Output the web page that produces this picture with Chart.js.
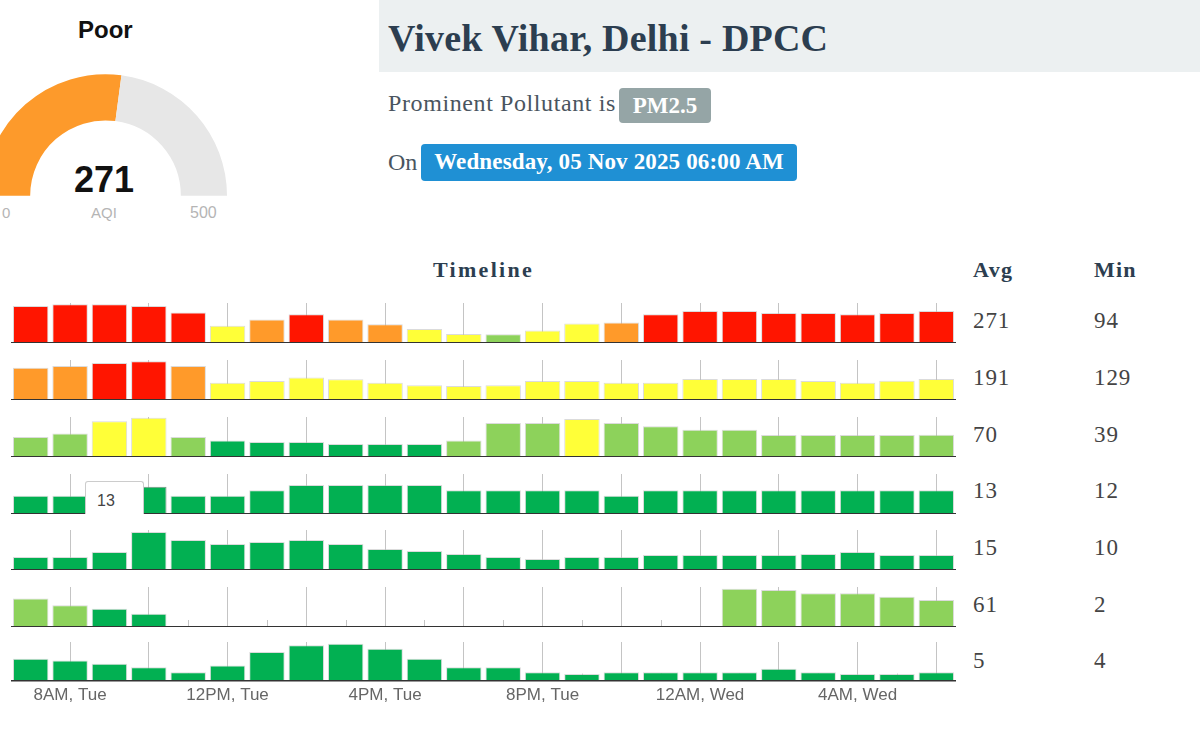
<!DOCTYPE html>
<html>
<head>
<meta charset="utf-8">
<title>Vivek Vihar, Delhi - DPCC</title>
<script src="https://cdn.jsdelivr.net/npm/chart.js@4"></script>
<style>
html, body { margin: 0; padding: 0; background: #fff; overflow: hidden; }
#page { position: relative; width: 1200px; height: 738px; overflow: hidden; }
#page canvas { position: absolute; }
.txt { position: absolute; white-space: nowrap; line-height: 1; }
.serif { font-family: "Liberation Serif", serif; color: #4a5560; }
.sans { font-family: "Liberation Sans", sans-serif; }
#head { position: absolute; left: 379px; top: 0; width: 821px; height: 72px; background: #ecf0f1; }
.badge { position: absolute; border-radius: 4px; color: #fff; font: bold 23px "Liberation Serif", serif; text-align: center; }
#tip { position: absolute; left: 85px; top: 481px; width: 57px; height: 32px; background: #fff; border: 1px solid #ccc; border-bottom: 0; border-radius: 3px 3px 0 0; }
</style>
</head>
<body>
<div id="page">
  <div id="head"></div>
  <div class="txt serif" style="left:388px;top:19px;font-size:38px;font-weight:bold;color:#2c3e50;letter-spacing:.2px">Vivek Vihar, Delhi - DPCC</div>
  <div class="txt serif" style="left:388px;top:91px;font-size:24px;letter-spacing:.6px">Prominent Pollutant is</div>
  <div class="badge" style="left:619px;top:88px;width:92px;height:35px;line-height:35px;background:#95a5a6">PM2.5</div>
  <div class="txt serif" style="left:388px;top:150px;font-size:24px">On</div>
  <div class="badge" style="left:421px;top:144px;width:376px;height:37px;line-height:36px;background:#1f90d4;letter-spacing:.15px">Wednesday, 05 Nov 2025 06:00 AM</div>
  <div class="txt serif" style="left:433px;top:259px;font-size:22px;font-weight:bold;color:#2c3e50;letter-spacing:2.3px">Timeline</div>
  <div class="txt serif" style="left:973px;top:259px;font-size:22px;font-weight:bold;color:#2c3e50;letter-spacing:1.4px">Avg</div>
  <div class="txt serif" style="left:1094px;top:259px;font-size:22px;font-weight:bold;color:#2c3e50;letter-spacing:1.2px">Min</div>
  <div class="txt sans" style="left:78px;top:18px;font-size:24px;font-weight:bold;color:#111">Poor</div>
  <div class="txt sans" style="left:74px;top:162px;font-size:36px;font-weight:bold;color:#111">271</div>
  <div class="txt sans" style="left:2px;top:205px;font-size:15px;color:#b5b5b5">0</div>
  <div class="txt sans" style="left:91px;top:205px;font-size:15px;color:#b5b5b5">AQI</div>
  <div class="txt sans" style="left:190px;top:205px;font-size:16px;color:#b5b5b5">500</div>
  <canvas id="gauge" width="243" height="122" style="left:-16px;top:74px"></canvas>
</div>
<script>
const hours = ["7AM, Tue","8AM, Tue","9AM, Tue","10AM, Tue","11AM, Tue","12PM, Tue","1PM, Tue","2PM, Tue","3PM, Tue","4PM, Tue","5PM, Tue","6PM, Tue",
    "7PM, Tue","8PM, Tue","9PM, Tue","10PM, Tue","11PM, Tue","12AM, Wed","1AM, Wed","2AM, Wed","3AM, Wed","4AM, Wed","5AM, Wed","6AM, Wed"];

const row1 = [315,330,330,315,259,147,200,245,200,159,118,77,74,106,165,174,245,271,271,256,256,245,256,271];
const row2 = [293,309,337,353,309,156,172,204,188,156,134,127,134,172,172,156,156,191,191,191,172,156,175,191];
const row3 = [63,74,113,124,63,52,47,47,41,41,41,52,107,107,120,107,97,86,86,69,69,69,69,70];
const row4 = [10,10,13,15,10,10,13,16,16,16,16,13,13,13,13,10,13,13,13,13,13,13,13,13];
const row5 = [13,13,18,38,30,26,28,30,26,21,19,16,13,11,13,13,15,15,15,15,16,18,15,15];
const row6 = [64,49,41,30,null,null,null,null,null,null,null,null,null,null,null,1,null,2,86,83,76,76,68,61];
const row7 = [13,12,10,8,5,9,17,21,22,19,13,8,8,5,4,5,5,5,5,7,5,4,4,5];

// air quality band of every bar: 0 good .. 4 very poor
const band1 = [4,4,4,4,4,2,3,4,3,3,2,2,1,2,2,3,4,4,4,4,4,4,4,4];
const band2 = [3,3,4,4,3,2,2,2,2,2,2,2,2,2,2,2,2,2,2,2,2,2,2,2];
const band3 = [1,1,2,2,1,0,0,0,0,0,0,1,1,1,2,1,1,1,1,1,1,1,1,1];
const band4 = new Array(24).fill(0);
const band5 = new Array(24).fill(0);
const band6 = [1,1,0,0,0,0,0,0,0,0,0,0,0,0,0,0,0,0,1,1,1,1,1,1];
const band7 = new Array(24).fill(0);

const rowMax = [340, 364, 126, 22, 40, 90, 23];
const avgValues = [271, 191, 70, 13, 15, 61, 5];
const minValues = [94, 129, 39, 12, 10, 2, 4];
const aqiValue = 271;
const aqiMax = 500;

const bandColors = ["#02b052", "#8dd25b", "#ffff38", "#ff9a2a", "#ff1500"];
const baselines = [342, 399, 456, 513, 569, 626, 681];
const textRows = [320, 377, 434, 490, 547, 604, 660];
const rows = [row1, row2, row3, row4, row5, row6, row7];
const bands = [band1, band2, band3, band4, band5, band6, band7];

const page = document.getElementById("page");

new Chart(document.getElementById("gauge"), {
    type: "doughnut",
    data: {
        labels: ["AQI", "rest"],
        datasets: [{ data: [aqiValue, aqiMax - aqiValue], backgroundColor: ["#fd9a2b", "#e7e7e7"], borderWidth: 0 }]
    },
    options: {
        responsive: false,
        animation: false,
        rotation: -90,
        circumference: 180,
        cutout: "62%",
        plugins: { legend: { display: false }, tooltip: { enabled: false } }
    }
});

// the little ticks between the tall grid lines, only visible where there is no bar
const shortTicks = {
    id: "shortTicks",
    beforeDatasetsDraw(chart) {
        const ctx = chart.ctx;
        const bottom = chart.chartArea.bottom;
        ctx.save();
        ctx.strokeStyle = "#c4c4c4";
        ctx.lineWidth = 1;
        hours.forEach(function(h, i) {
            if (i % 2 === 1) return;
            const x = Math.round(chart.scales.x.getPixelForValue(i)) + 0.5;
            ctx.beginPath();
            ctx.moveTo(x, bottom - 7);
            ctx.lineTo(x, bottom);
            ctx.stroke();
        });
        ctx.restore();
    }
};

rows.forEach(function(values, r) {
    const last = r === rows.length - 1;
    const canvas = document.createElement("canvas");
    canvas.width = 945;
    canvas.height = last ? 69 : 40;
    canvas.style.left = "11px";
    canvas.style.top = (baselines[r] - 39) + "px";
    page.appendChild(canvas);

    new Chart(canvas, {
        type: "bar",
        data: {
            labels: hours,
            datasets: [{
                data: values,
                backgroundColor: bands[r].map(function(b) { return bandColors[b]; }),
                // the bar next to the hover box is still outlined in the screenshot
                borderColor: function(c) { return r === 3 && c.dataIndex === 3 ? "#7f8f86" : "rgba(190, 190, 190, 0.55)"; },
                borderWidth: 1,
                categoryPercentage: 1,
                barPercentage: 0.9
            }]
        },
        options: {
            responsive: false,
            animation: false,
            layout: { padding: 0 },
            plugins: { legend: { display: false }, tooltip: { enabled: false } },
            scales: {
                x: {
                    grid: {
                        offset: false,
                        drawTicks: false,
                        color: function(c) { return c.index % 2 === 1 ? "#c4c4c4" : "rgba(0,0,0,0)"; }
                    },
                    border: { color: "#333", width: 1.5, z: 1 },
                    ticks: {
                        display: last,
                        autoSkip: false,
                        maxRotation: 0,
                        padding: 5,
                        color: "#666",
                        font: { family: "Liberation Sans", size: 17 },
                        callback: function(v, i) { return i % 4 === 1 ? hours[i] : ""; }
                    }
                },
                y: { display: false, min: 0, max: rowMax[r] }
            }
        },
        plugins: [shortTicks]
    });

    [[973, avgValues[r]], [1094, minValues[r]]].forEach(function(c) {
        const d = document.createElement("div");
        d.className = "txt serif";
        d.style.cssText = "left:" + c[0] + "px;top:" + (textRows[r] - 11) + "px;font-size:23px;letter-spacing:.9px;color:#444";
        d.textContent = c[1];
        page.appendChild(d);
    });
});

// the hover box that sits over the fourth row in the screenshot
const tip = document.createElement("div");
tip.id = "tip";
const tipText = document.createElement("div");
tipText.className = "txt sans";
tipText.style.cssText = "left:11px;top:11px;font-size:16px;color:#444";
tipText.textContent = row4[2];
tip.appendChild(tipText);
page.appendChild(tip);
</script>
</body>
</html>
